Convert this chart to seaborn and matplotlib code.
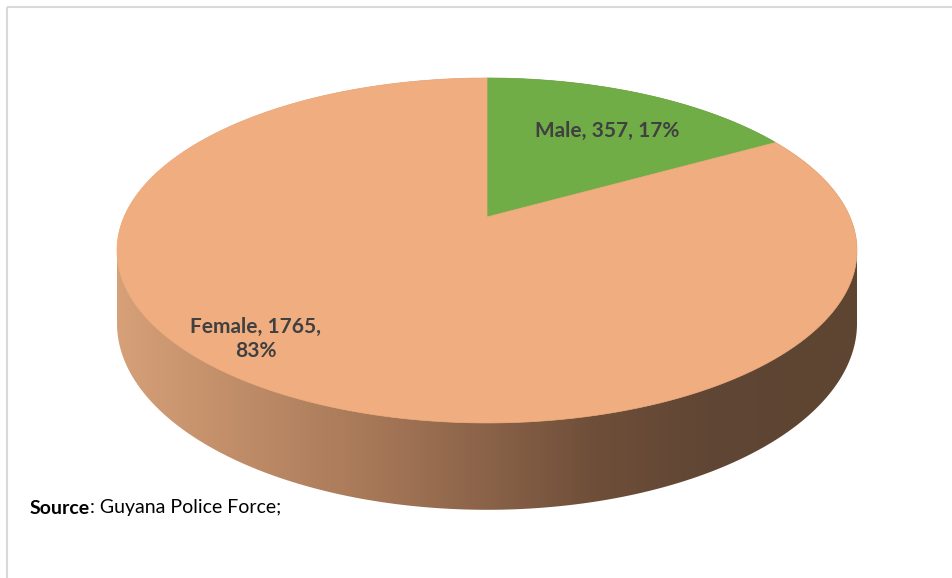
import numpy as np
import matplotlib.pyplot as plt
import seaborn as sns
from matplotlib.patches import Polygon
from matplotlib.colors import LinearSegmentedColormap

# Data
labels = ["Male", "Female"]
counts = [357, 1765]
slice_colors = ["#70AD47", "#F0AE80"]
label_seps = [" ", "\n"]          # Female label wraps onto two lines
label_xy = [(607, 131), (256, 339)]

sns.set_theme(style="white")
plt.rcParams['font.family'] = ['Lato', 'DejaVu Sans']

W, H = 952, 578
fig = plt.figure(figsize=(W / 100, H / 100), dpi=100)
ax = fig.add_axes([0, 0, 1, 1])
ax.set_xlim(0, W)
ax.set_ylim(H, 0)
ax.axis('off')

# 3D pie geometry in pixels (simple perspective tilt)
cx, cy = 487, 217
A, B, k, depth = 363, 166, 0.194, 70


def proj(t, r=1.0, z=0.0):
    u = r * np.cos(t)
    v = r * np.sin(t)
    s = 1.0 / (1.0 + k * v)
    return cx + A * u * s, cy - B * v * s + depth * z * s


def hull(pts):
    pts = sorted(map(tuple, pts))
    def cross(o, a, b):
        return (a[0] - o[0]) * (b[1] - o[1]) - (a[1] - o[1]) * (b[0] - o[0])
    lower, upper = [], []
    for p in pts:
        while len(lower) >= 2 and cross(lower[-2], lower[-1], p) <= 0:
            lower.pop()
        lower.append(p)
    for p in reversed(pts):
        while len(upper) >= 2 and cross(upper[-2], upper[-1], p) <= 0:
            upper.pop()
        upper.append(p)
    return np.array(lower[:-1] + upper[:-1])


# side of the cylinder: hull of top and bottom rims, filled with a gradient
tt = np.linspace(0, 2 * np.pi, 400)
top = np.column_stack(proj(tt))
bot = np.column_stack(proj(tt, z=1.0))
side = Polygon(hull(np.vstack([top, bot])), closed=True, facecolor='none', edgecolor='none')
ax.add_patch(side)

side_cmap = LinearSegmentedColormap.from_list(
    "side", [(0.0, "#D6A078"), (0.35, "#A67757"), (0.65, "#6E4E39"),
             (0.8, "#604634"), (1.0, "#5D4532")])
grad = np.linspace(0, 1, 512)[None, :]
im = ax.imshow(grad, cmap=side_cmap, extent=[117, 857, 560, 60], aspect='auto', zorder=1)
im.set_clip_path(side)
ax.set_xlim(0, W)
ax.set_ylim(H, 0)

# top surface slices, starting at 12 o'clock going clockwise
total = sum(counts)
start = np.pi / 2
for c, col in zip(counts, slice_colors):
    sweep = 2 * np.pi * c / total
    ts = np.linspace(start, start - sweep, 200)
    xs, ys = proj(ts)
    pts = np.column_stack([np.r_[cx, xs], np.r_[cy, ys]])
    ax.add_patch(Polygon(pts, closed=True, facecolor=col, edgecolor=col, lw=0.5, zorder=2))
    start -= sweep

# data labels
for lab, c, sep, (lx, ly) in zip(labels, counts, label_seps, label_xy):
    pct = round(100 * c / total)
    ax.text(lx, ly, f"{lab}, {c},{sep}{pct}%", ha='center', va='center',
            fontsize=15, fontweight='bold', color='#404040', linespacing=1.25, zorder=3)

# source note
t1 = ax.text(30, 508, "Source", fontsize=14, fontweight='bold', color='black', va='center')
fig.canvas.draw()
bb = t1.get_window_extent()
x_end = ax.transData.inverted().transform((bb.x1, bb.y0))[0]
ax.text(x_end, 508, ": Guyana Police Force;", fontsize=14, color='black', va='center')

# light frame (top and left edges)
ax.plot([6.5, W], [6.5, 6.5], color='#D9D9D9', lw=1.5, solid_capstyle='butt')
ax.plot([6.5, 6.5], [6.5, H], color='#D9D9D9', lw=1.5, solid_capstyle='butt')

fig.savefig("out.png", dpi=100)
plt.close(fig)
